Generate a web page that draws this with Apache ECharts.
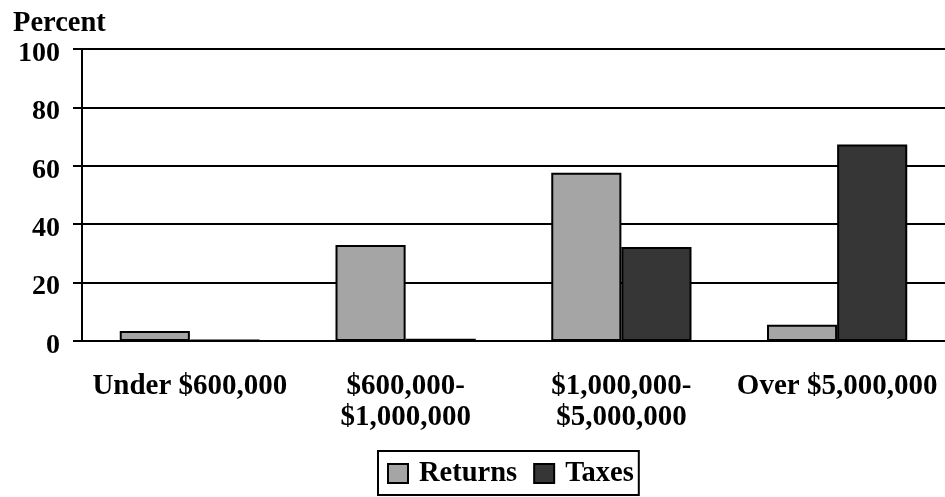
<!DOCTYPE html>
<html><head><meta charset="utf-8">
<script src="https://cdn.jsdelivr.net/npm/echarts@6/dist/echarts.min.js"></script>
<style>html,body{margin:0;padding:0;background:#fff}#c{width:945px;height:497px}</style>
</head><body><div id="c"></div>
<script>
const categories = ['Under $600,000', '$600,000-\n$1,000,000', '$1,000,000-\n$5,000,000', 'Over $5,000,000'];
const returnsValues = [3.4, 32.9, 57.6, 5.6];
const taxesValues = [0.3, 0.8, 32.2, 67.3];
const yTicks = [0, 20, 40, 60, 80, 100];
const FONT = '"Liberation Serif", "Times New Roman", serif';
const chart = echarts.init(document.getElementById('c'), null, {renderer: 'canvas'});
chart.setOption({
  animation: false,
  backgroundColor: '#fff',
  textStyle: {fontFamily: FONT},
  title: {text: 'Percent', left: 13, top: 9, padding: 0, textStyle: {fontFamily: FONT, fontWeight: 'bold', fontSize: 28.5, color: '#000'}},
  legend: {
    data: ['Returns', 'Taxes'], bottom: 2, left: 378,
    icon: 'rect',
    borderColor: '#000', borderWidth: 2, padding: [8, 5, 7, 9],
    itemWidth: 20, itemHeight: 19, itemGap: 16,
    itemStyle: {borderColor: '#000', borderWidth: 2},
    textStyle: {fontFamily: FONT, fontWeight: 'bold', fontSize: 28.5, color: '#000', padding: [2, 0, 0, 6]}
  },
  grid: {left: 82, right: 0, top: 49, bottom: 156, containLabel: false},
  xAxis: {
    type: 'category', data: categories,
    axisLine: {lineStyle: {color: '#000', width: 2, type: [5, 2]}},
    axisTick: {show: false},
    axisLabel: {fontFamily: FONT, fontWeight: 'bold', fontSize: 29, color: '#000', margin: 30, lineHeight: 31, interval: 0}
  },
  yAxis: {
    type: 'value', min: 0, max: 100, interval: 20,
    axisLine: {show: true, lineStyle: {color: '#000', width: 2}},
    axisTick: {show: true, length: 9, lineStyle: {color: '#000', width: 2}},
    splitLine: {lineStyle: {color: '#000', width: 2}},
    axisLabel: {color: '#000', margin: 22,
      formatter: v => yTicks.includes(v) ? '{s|}\n{v|' + v + '}' : '',
      rich: {
        s: {lineHeight: 9, fontSize: 1},
        v: {fontFamily: FONT, fontWeight: 'bold', fontSize: 28, lineHeight: 28, color: '#000'}
      }}
  },
  series: [
    {name: 'Returns', type: 'bar', data: returnsValues, barGap: '0%', barCategoryGap: '35%',
     itemStyle: {color: '#a5a5a5', borderColor: '#000', borderWidth: 2}},
    {name: 'Taxes', type: 'bar', data: taxesValues,
     itemStyle: {color: '#363636', borderColor: '#000', borderWidth: 2}}
  ]
});
</script></body></html>
